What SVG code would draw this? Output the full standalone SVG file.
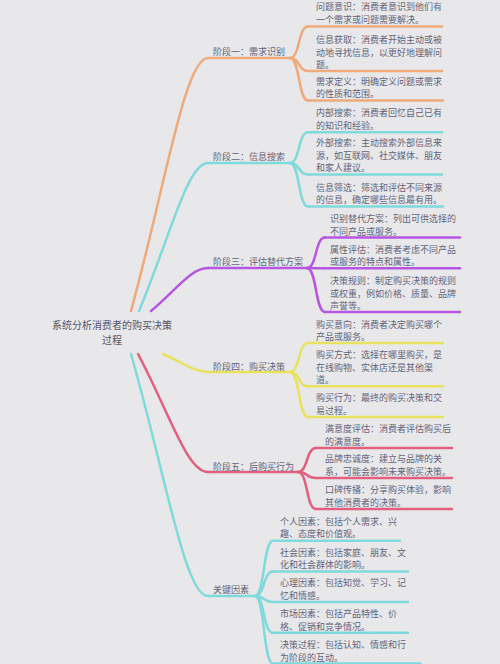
<svg xmlns="http://www.w3.org/2000/svg" width="500" height="664" viewBox="0 0 500 664">
<style>
text{font-family:"Noto Sans CJK SC","Noto Sans",sans-serif;fill:#64647a;font-size:9px}
.root{font-size:10px;fill:#55556a}
path,line{fill:none;stroke-width:2.5;stroke-linecap:round}
.o{stroke:#eeaa7b}.c{stroke:#80d9da}.p{stroke:#b656e2}.y{stroke:#e8e25e}.k{stroke:#e2607f}
</style>
<rect width="500" height="664" fill="#e8e8ea"/>
<g id="connectors">
<path class="o" d="M131,311 C165.6,184.5 184.9,58 208,58"/>
<path class="c" d="M139,311 C170,237 187.3,163 208,163"/>
<path class="p" d="M151,311 C176.7,289.5 190.9,268 208,268"/>
<path class="y" d="M163,354 C183.3,363 194.5,372 208,372"/>
<path class="k" d="M138,354 C169.5,413 187,472 208,472"/>
<path class="c" d="M131,354 C165.6,475 184.9,596 208,596"/>
<path class="o" d="M290,58 C300,58 298,26.5 308,26.5"/>
<path class="o" d="M290,58 C300,58 298,71 308,71"/>
<path class="o" d="M290,58 C300,58 298,100.5 308,100.5"/>
<path class="c" d="M290,163 C300,163 298,132.3 308,132.3"/>
<path class="c" d="M290,163 C300,163 298,174.5 308,174.5"/>
<path class="c" d="M290,163 C300,163 298,206.5 308,206.5"/>
<path class="p" d="M307,268 C317,268 315,237.5 325,237.5"/>
<path class="p" d="M307,268 C317,268 315,268.3 325,268.3"/>
<path class="p" d="M307,268 C317,268 315,312 325,312"/>
<path class="y" d="M290,372 C300,372 298,343 308,343"/>
<path class="y" d="M290,372 C300,372 298,386.3 308,386.3"/>
<path class="y" d="M290,372 C300,372 298,417 308,417"/>
<path class="k" d="M298,472 C308,472 306,448 316,448"/>
<path class="k" d="M298,472 C308,472 306,478 316,478"/>
<path class="k" d="M298,472 C308,472 306,509 316,509"/>
<path class="c" d="M255,596 C265,596 263,540.7 273,540.7"/>
<path class="c" d="M255,596 C265,596 263,571.5 273,571.5"/>
<path class="c" d="M255,596 C265,596 263,602 273,602"/>
<path class="c" d="M255,596 C265,596 263,632.8 273,632.8"/>
<path class="c" d="M255,596 C265,596 263,663.5 273,663.5"/>
</g>
<g id="root"><text class="root" x="112" text-anchor="middle"><tspan x="112" y="328.5">系统分析消费者的购买决策</tspan><tspan x="112" y="343.5">过程</tspan></text></g>
<g id="stage1"><line class="o" x1="208" y1="58" x2="290" y2="58"/><text x="213" y="55">阶段一：需求识别</text></g>
<g id="s1c1"><line class="o" x1="308" y1="26.5" x2="442" y2="26.5"/><text x="316"><tspan x="316" y="10.3">问题意识：消费者意识到他们有</tspan><tspan x="316" y="22.8">一个需求或问题需要解决。</tspan></text></g>
<g id="s1c2"><line class="o" x1="308" y1="71" x2="442" y2="71"/><text x="316"><tspan x="316" y="43">信息获取：消费者开始主动或被</tspan><tspan x="316" y="55.5">动地寻找信息，以更好地理解问</tspan><tspan x="316" y="68">题。</tspan></text></g>
<g id="s1c3"><line class="o" x1="308" y1="100.5" x2="443" y2="100.5"/><text x="316"><tspan x="316" y="84.7">需求定义：明确定义问题或需求</tspan><tspan x="316" y="97.2">的性质和范围。</tspan></text></g>
<g id="stage2"><line class="c" x1="208" y1="163" x2="290" y2="163"/><text x="213" y="159.7">阶段二：信息搜索</text></g>
<g id="s2c1"><line class="c" x1="308" y1="132.3" x2="442" y2="132.3"/><text x="316"><tspan x="316" y="116.3">内部搜索：消费者回忆自己已有</tspan><tspan x="316" y="128.8">的知识和经验。</tspan></text></g>
<g id="s2c2"><line class="c" x1="308" y1="174.5" x2="442" y2="174.5"/><text x="316"><tspan x="316" y="146.3">外部搜索：主动搜索外部信息来</tspan><tspan x="316" y="158.8">源，如互联网、社交媒体、朋友</tspan><tspan x="316" y="171.3">和家人建议。</tspan></text></g>
<g id="s2c3"><line class="c" x1="308" y1="206.5" x2="443" y2="206.5"/><text x="316"><tspan x="316" y="191">信息筛选：筛选和评估不同来源</tspan><tspan x="316" y="203.3">的信息，确定哪些信息最有用。</tspan></text></g>
<g id="stage3"><line class="p" x1="208" y1="268" x2="307" y2="268"/><text x="213" y="264.7">阶段三：评估替代方案</text></g>
<g id="s3c1"><line class="p" x1="325" y1="237.5" x2="460" y2="237.5"/><text x="330"><tspan x="330" y="222">识别替代方案：列出可供选择的</tspan><tspan x="330" y="234.5">不同产品或服务。</tspan></text></g>
<g id="s3c2"><line class="p" x1="325" y1="268.3" x2="460" y2="268.3"/><text x="330"><tspan x="330" y="253">属性评估：消费者考虑不同产品</tspan><tspan x="330" y="265.2">或服务的特点和属性。</tspan></text></g>
<g id="s3c3"><line class="p" x1="325" y1="312" x2="460" y2="312"/><text x="330"><tspan x="330" y="284">决策规则：制定购买决策的规则</tspan><tspan x="330" y="296.5">或权重，例如价格、质量、品牌</tspan><tspan x="330" y="309">声誉等。</tspan></text></g>
<g id="stage4"><line class="y" x1="208" y1="372" x2="290" y2="372"/><text x="213" y="369.7">阶段四：购买决策</text></g>
<g id="s4c1"><line class="y" x1="308" y1="343" x2="443" y2="343"/><text x="316"><tspan x="316" y="328">购买意向：消费者决定购买哪个</tspan><tspan x="316" y="340">产品或服务。</tspan></text></g>
<g id="s4c2"><line class="y" x1="308" y1="386.3" x2="443" y2="386.3"/><text x="316"><tspan x="316" y="358">购买方式：选择在哪里购买，是</tspan><tspan x="316" y="370.5">在线购物、实体店还是其他渠</tspan><tspan x="316" y="383">道。</tspan></text></g>
<g id="s4c3"><line class="y" x1="308" y1="417" x2="443" y2="417"/><text x="316"><tspan x="316" y="401.3">购买行为：最终的购买决策和交</tspan><tspan x="316" y="413.8">易过程。</tspan></text></g>
<g id="stage5"><line class="k" x1="208" y1="472" x2="298" y2="472"/><text x="213" y="469.7">阶段五：后购买行为</text></g>
<g id="s5c1"><line class="k" x1="316" y1="448" x2="452" y2="448"/><text x="325"><tspan x="325" y="432">满意度评估：消费者评估购买后</tspan><tspan x="325" y="444.5">的满意度。</tspan></text></g>
<g id="s5c2"><line class="k" x1="316" y1="478" x2="452" y2="478"/><text x="325"><tspan x="325" y="462.3">品牌忠诚度：建立与品牌的关</tspan><tspan x="325" y="474.8">系，可能会影响未来购买决策。</tspan></text></g>
<g id="s5c3"><line class="k" x1="316" y1="509" x2="452" y2="509"/><text x="325"><tspan x="325" y="493">口碑传播：分享购买体验，影响</tspan><tspan x="325" y="505.5">其他消费者的决策。</tspan></text></g>
<g id="key"><line class="c" x1="208" y1="596" x2="255" y2="596"/><text x="213" y="593">关键因素</text></g>
<g id="kc1"><line class="c" x1="273" y1="540.7" x2="400" y2="540.7"/><text x="280"><tspan x="280" y="524.7">个人因素：包括个人需求、兴</tspan><tspan x="280" y="537.2">趣、态度和价值观。</tspan></text></g>
<g id="kc2"><line class="c" x1="273" y1="571.5" x2="408" y2="571.5"/><text x="280"><tspan x="280" y="555.7">社会因素：包括家庭、朋友、文</tspan><tspan x="280" y="568.2">化和社会群体的影响。</tspan></text></g>
<g id="kc3"><line class="c" x1="273" y1="602" x2="408" y2="602"/><text x="280"><tspan x="280" y="586.3">心理因素：包括知觉、学习、记</tspan><tspan x="280" y="598.8">忆和情感。</tspan></text></g>
<g id="kc4"><line class="c" x1="273" y1="632.8" x2="408" y2="632.8"/><text x="280"><tspan x="280" y="617">市场因素：包括产品特性、价</tspan><tspan x="280" y="629.5">格、促销和竞争情况。</tspan></text></g>
<g id="kc5"><line class="c" x1="273" y1="663.5" x2="420" y2="663.5"/><text x="280"><tspan x="280" y="648">决策过程：包括认知、情感和行</tspan><tspan x="280" y="660.5">为阶段的互动。</tspan></text></g>
</svg>
